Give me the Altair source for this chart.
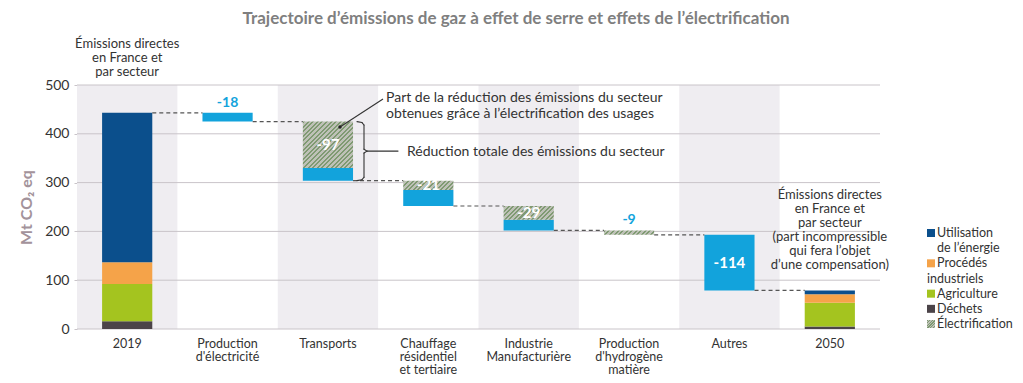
import altair as alt
import pandas as pd

# ---------------- data ----------------
categories = ["2019", "Production|d'électricité", "Transports",
              "Chauffage|résidentiel|et tertiaire", "Industrie|Manufacturière",
              "Production|d'hydrogène|matière", "Autres", "2050"]
sectors = ["Utilisation de l’énergie", "Procédés industriels", "Agriculture", "Déchets"]
sector_colors = ["#0b4f8c", "#f5a349", "#a4c41f", "#4b4348"]
values_2019 = [306, 45, 76, 16]
values_2050 = [8, 17, 49, 5]

step_names = categories[1:7]
step_start = [443, 425, 304, 252, 202, 193]
step_end = [425, 304, 252, 202, 193, 79]
step_electrification = [0, 95, 19, 28, 9, 0]
step_labels = ["-18", "-97", "-21", "-29", "-9", "-114"]

y_ticks = [0, 100, 200, 300, 400, 500]

legend_lines = ["Utilisation", "de l’énergie", "Procédés", "industriels",
                "Agriculture", "Déchets", "Électrification"]
legend_indent = [0, 0, 0, -10, 0, 0, 0]
legend_symbol_rows = [0, 2, 4, 5]   # rows for the 4 sectors; Électrification on row 6

# ---------------- layout ----------------
W, H = 803, 244
PX = H / 500.0
BAR_W = 0.5 * W / len(categories)
BLUE = "#12a3dc"
BAND = "#efedf1"
GRID = "#c9c4c9"
TXT = "#333333"
FONT = "Lato"


def hatch(w_px, h_px, period=4.5, c1="#7f9a72", c2="#bec1b7"):
    r = h_px / w_px
    k = (1 + r) / (1 + r * r)
    n = max(2, round((w_px + h_px) / period))
    stops = []
    for i in range(n):
        a, m, b = i / n, (i + 0.45) / n, (i + 1) / n
        stops += [{"offset": a, "color": c1}, {"offset": m, "color": c1},
                  {"offset": m, "color": c2}, {"offset": b, "color": c2}]
    return {"gradient": "linear", "x1": 0, "y1": 0, "x2": k, "y2": k * r, "stops": stops}


xscale = alt.Scale(domain=categories, paddingInner=0, paddingOuter=0)
yscale = alt.Scale(domain=[0, 500], nice=False)


def X(field="cat", **kw):
    return alt.X(f"{field}:N", scale=xscale, axis=None, **kw)


# ---------------- tables ----------------
bands = pd.DataFrame({"cat": categories[0::2]})
grid = pd.DataFrame({"tick": y_ticks})

stack_rows = []
for cat, vals in [(categories[0], values_2019), (categories[7], values_2050)]:
    base = 0
    for s, v in reversed(list(zip(sectors, vals))):
        stack_rows.append(dict(cat=cat, sector=s, y=base, y2=base + v))
        base += v
stacks = pd.DataFrame(stack_rows)

blue_rows, hatch_rows, in_rows, out_rows = [], [], [], []
for name, s, e, el, lab in zip(step_names, step_start, step_end, step_electrification, step_labels):
    if s - el > e:
        blue_rows.append(dict(cat=name, y=e, y2=s - el))
    if el > 0:
        hatch_rows.append(dict(cat=name, y=s - el, y2=s, h=el))
    if s - e < 20:
        out_rows.append(dict(cat=name, y=s, label=lab))
    else:
        in_rows.append(dict(cat=name, y=(s - el / 2) if el >= 15 else (s + e) / 2, label=lab))
blue = pd.DataFrame(blue_rows)
inside = pd.DataFrame(in_rows)
outside = pd.DataFrame(out_rows)

levels = [step_start[0]] + step_end
conn = pd.DataFrame([dict(src=categories[k], dst=categories[k + 1], level=levels[k])
                     for k in range(len(categories) - 1)])

# ---------------- layers ----------------
band_layer = alt.Chart(bands).mark_rect(color=BAND).encode(
    x=alt.X("cat:N", scale=xscale, axis=alt.Axis(
        title=None, labelExpr="split(datum.label, '|')", labelAngle=0,
        labelFont=FONT, labelFontSize=12.5, labelColor=TXT, labelLineHeight=13,
        labelPadding=8, labelBaseline="top", ticks=False, domain=False)),
    y=alt.value(0), y2=alt.value(H))

grid_layer = alt.Chart(grid).mark_rule(color=GRID, strokeWidth=1).encode(
    y=alt.Y("tick:Q", scale=yscale, axis=alt.Axis(
        values=y_ticks, grid=False, domain=False, ticks=True, tickSize=3, tickColor=GRID,
        labelFont=FONT, labelFontSize=14, labelColor=TXT, labelPadding=5,
        title="Mt CO₂ eq", titleFont=FONT, titleFontSize=16, titleFontWeight="bold",
        titleColor="#a3939b", titlePadding=10)))

stack_layer = alt.Chart(stacks).mark_bar(width={"band": 0.5}).encode(
    x=X(), y=alt.Y("y:Q", scale=yscale), y2="y2:Q",
    color=alt.Color("sector:N", scale=alt.Scale(domain=sectors, range=sector_colors), legend=None))

blue_layer = alt.Chart(blue).mark_bar(width={"band": 0.5}, color=BLUE).encode(
    x=X(), y=alt.Y("y:Q", scale=yscale), y2="y2:Q")

hatch_layers = []
for row in hatch_rows:
    hatch_layers.append(
        alt.Chart(pd.DataFrame([row])).mark_bar(
            width={"band": 0.5}, fill=hatch(BAR_W, row["h"] * PX)).encode(
            x=X(), y=alt.Y("y:Q", scale=yscale), y2="y2:Q"))

conn_layer = alt.Chart(conn).mark_rule(color="#555555", strokeWidth=1.2, strokeDash=[4, 3]).encode(
    x=alt.X("src:N", scale=xscale, axis=None, bandPosition=0.75),
    x2=alt.X2("dst:N", bandPosition=0.25),
    y=alt.Y("level:Q", scale=yscale))

in_text = alt.Chart(inside).mark_text(font=FONT, fontSize=15, fontWeight="bold",
                                      color="white", baseline="middle").encode(
    x=X(), y=alt.Y("y:Q", scale=yscale), text="label:N")
out_text = alt.Chart(outside).mark_text(font=FONT, fontSize=14, fontWeight="bold",
                                        color=BLUE, baseline="bottom", dy=-3).encode(
    x=X(), y=alt.Y("y:Q", scale=yscale), text="label:N")

# annotations
left_note = alt.Chart(pd.DataFrame({"cat": [categories[0]],
                                    "t": ["Émissions directes\nen France et\npar secteur"]})).mark_text(
    font=FONT, fontSize=13, color=TXT, baseline="top", lineBreak="\n", lineHeight=14).encode(
    x=X(), y=alt.value(-47), text="t:N")
right_note = alt.Chart(pd.DataFrame({"cat": [categories[7]],
                                     "t": ["Émissions directes\nen France et\npar secteur\n(part incompressible\nqui fera l’objet\nd’une compensation)"]})).mark_text(
    font=FONT, fontSize=13, color=TXT, baseline="top", lineBreak="\n", lineHeight=14).encode(
    x=X(), y=alt.value(104), text="t:N")

title = alt.Chart(pd.DataFrame({"t": ["Trajectoire d’émissions de gaz à effet de serre et effets de l’électrification"]})).mark_text(
    font=FONT, fontSize=17, fontWeight="bold", color="#7f7f7f", align="center", baseline="middle").encode(
    x=alt.value(439), y=alt.value(-66), text="t:N")

part_note = alt.Chart(pd.DataFrame({"t": ["Part de la réduction des émissions du secteur\nobtenues grâce à l’électrification des usages"]})).mark_text(
    font=FONT, fontSize=14, color=TXT, align="left", baseline="top", lineBreak="\n", lineHeight=16).encode(
    x=alt.value(309), y=alt.value(6), text="t:N")
part_line = alt.Chart(pd.DataFrame({"a": [0]})).mark_rule(color="#333333", strokeWidth=1.1).encode(
    x=alt.value(306), x2=alt.value(263), y=alt.value(14), y2=alt.value(42))
part_dot = alt.Chart(pd.DataFrame({"a": [0]})).mark_point(filled=True, color="#222222", size=12, opacity=1).encode(
    x=alt.value(263), y=alt.value(42))

tr_top, tr_bot = step_start[1], step_end[1]
tr_mid = (tr_top + tr_bot) / 2
brace = pd.DataFrame([
    dict(x=280, x2=285, y=tr_top, y2=tr_top - 2),
    dict(x=285, x2=287, y=tr_top - 2, y2=tr_top - 7),
    dict(x=287, x2=287, y=tr_top - 7, y2=tr_mid + 4),
    dict(x=287, x2=290, y=tr_mid + 4, y2=tr_mid),
    dict(x=290, x2=287, y=tr_mid, y2=tr_mid - 4),
    dict(x=287, x2=287, y=tr_mid - 4, y2=tr_bot + 7),
    dict(x=287, x2=285, y=tr_bot + 7, y2=tr_bot + 2),
    dict(x=285, x2=280, y=tr_bot + 2, y2=tr_bot),
    dict(x=290, x2=321, y=tr_mid, y2=tr_mid),
])
brace_layer = alt.Chart(brace).mark_rule(color="#333333", strokeWidth=1.1, strokeCap="round").encode(
    x=alt.X("x:Q", scale=alt.Scale(domain=[0, W], range=[0, W]), axis=None),
    x2="x2:Q", y=alt.Y("y:Q", scale=yscale), y2="y2:Q")
red_note = alt.Chart(pd.DataFrame({"t": ["Réduction totale des émissions du secteur"]})).mark_text(
    font=FONT, fontSize=14, color=TXT, align="left", baseline="middle").encode(
    x=alt.value(330), y=alt.value(67), text="t:N")

main = alt.layer(band_layer, grid_layer, stack_layer, blue_layer, *hatch_layers, conn_layer,
                 in_text, out_text, left_note, right_note, title, part_note, part_line, part_dot,
                 brace_layer, red_note).resolve_scale(x="independent")

# ---------------- manual legend ----------------
lscale = alt.Scale(domain=[0, 6], range=[148, 239])
leg_text = pd.DataFrame({"row": list(range(len(legend_lines))), "t": legend_lines,
                         "ind": legend_indent})
leg_sym = pd.DataFrame({"row": legend_symbol_rows, "sector": sectors})
legend_text_layer = alt.Chart(leg_text).mark_text(
    font=FONT, fontSize=12.5, color=TXT, align="left", baseline="middle").encode(
    x=alt.X("ind:Q", scale=alt.Scale(domain=[0, 1], range=[860, 861]), axis=None),
    y=alt.Y("row:Q", scale=lscale, axis=None), text="t:N")
legend_sym_layer = alt.Chart(leg_sym).mark_square(size=64, opacity=1).encode(
    x=alt.value(854), y=alt.Y("row:Q", scale=lscale, axis=None),
    color=alt.Color("sector:N", scale=alt.Scale(domain=sectors, range=sector_colors), legend=None))
legend_hatch = alt.Chart(pd.DataFrame({"row": [6]})).mark_square(
    size=64, opacity=1, fill=hatch(8, 8, period=2.6)).encode(
    x=alt.value(854), y=alt.Y("row:Q", scale=lscale, axis=None))
legend = alt.layer(legend_text_layer, legend_sym_layer, legend_hatch)

chart = alt.layer(main, legend).resolve_scale(y="independent", x="independent").properties(
    width=W, height=H,
    autosize=alt.AutoSizeParams(type="none"),
    padding={"left": 69, "top": 77, "right": 135, "bottom": 46},
).configure_view(stroke=None)

chart.save("out.html", embed_options={"renderer": "svg", "actions": False})
